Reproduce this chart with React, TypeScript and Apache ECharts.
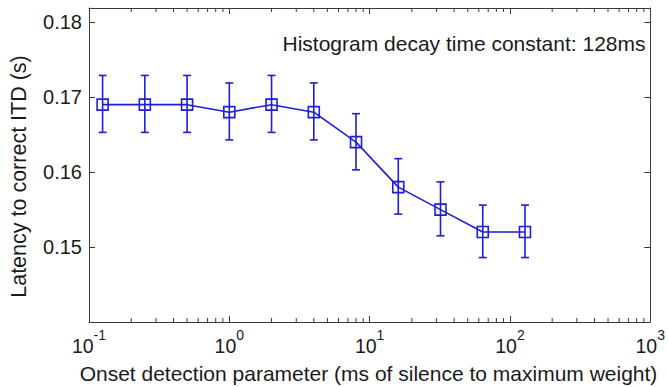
import { useEffect, useRef } from 'react';
import * as echarts from 'echarts';

const onsetMs = [0.125, 0.25, 0.5, 1, 2, 4, 8, 16, 32, 64, 128];
const latency = [0.169, 0.169, 0.169, 0.168, 0.169, 0.168, 0.164, 0.158, 0.155, 0.152, 0.152];
const errLow = [0.1653, 0.1653, 0.1653, 0.1643, 0.1653, 0.1643, 0.1603, 0.1544, 0.1515, 0.1486, 0.1486];
const errHigh = [0.1729, 0.1729, 0.1729, 0.1719, 0.1729, 0.1719, 0.1678, 0.1618, 0.1587, 0.1556, 0.1556];
const xMinorTicks = [
  0.2, 0.3, 0.4, 0.5, 0.6, 0.7, 0.8, 0.9,
  2, 3, 4, 5, 6, 7, 8, 9,
  20, 30, 40, 50, 60, 70, 80, 90,
  200, 300, 400, 500, 600, 700, 800, 900,
];
const xMin = 0.1;
const xMax = 1000;
const yMin = 0.14;
const yMax = 0.1819;
const yInterval = 0.01;
const annotation = 'Histogram decay time constant: 128ms';
const xLabel = 'Onset detection parameter (ms of silence to maximum weight)';
const yLabel = 'Latency to correct ITD (s)';

const BLUE = '#1e1ed8';
const AXIS = '#3a3a3a';
const TEXT = '#1a1a1a';
const FONT = 'Liberation Sans, Arial, sans-serif';

export default function App() {
  const ref = useRef<HTMLDivElement>(null);
  useEffect(() => {
    if (!ref.current) return;
    const chart = echarts.init(ref.current, null, { renderer: 'svg' });
    const axisLineStyle = { lineStyle: { color: AXIS, width: 1 } };
    const option: any = {
      animation: false,
      backgroundColor: '#ffffff',
      grid: { left: 89, right: 10, top: 8, bottom: 65, containLabel: false },
      xAxis: [
        {
          type: 'log',
          logBase: 10,
          min: xMin,
          max: xMax,
          position: 'bottom',
          axisLine: { show: true, ...axisLineStyle },
          axisTick: { show: true, inside: true, length: 6, lineStyle: { color: AXIS } },
          splitLine: { show: false },
          axisLabel: {
            margin: 6,
            color: TEXT,
            fontFamily: FONT,
            formatter: (v: number) => `{b|10}{s|${Math.round(Math.log10(v))}}`,
            rich: {
              b: { fontSize: 19.5, fontFamily: FONT, color: TEXT, padding: [8, 0, 0, 0] },
              s: { fontSize: 14, fontFamily: FONT, color: TEXT, verticalAlign: 'top', padding: [0, 0, 0, 0] },
            },
          },
        },
        {
          type: 'log',
          logBase: 10,
          min: xMin,
          max: xMax,
          position: 'top',
          axisLine: { show: true, ...axisLineStyle },
          axisTick: { show: true, inside: true, length: 6, lineStyle: { color: AXIS } },
          axisLabel: { show: false },
          splitLine: { show: false },
        },
      ],
      yAxis: [
        {
          type: 'value',
          min: yMin,
          max: yMax,
          interval: yInterval,
          position: 'left',
          axisLine: { show: true, ...axisLineStyle },
          axisTick: { show: true, inside: true, length: 6, lineStyle: { color: AXIS } },
          splitLine: { show: false },
          axisLabel: {
            showMinLabel: false,
            showMaxLabel: false,
            margin: 7,
            color: TEXT,
            fontSize: 20,
            fontFamily: FONT,
            formatter: (v: number) => v.toFixed(2),
          },
        },
        {
          type: 'value',
          min: yMin,
          max: yMax,
          interval: yInterval,
          position: 'right',
          axisLine: { show: true, ...axisLineStyle },
          axisTick: { show: true, inside: true, length: 6, lineStyle: { color: AXIS } },
          axisLabel: { show: false },
          splitLine: { show: false },
        },
      ],
      graphic: [
        {
          type: 'text',
          x: 282.5,
          y: 43,
          style: { text: annotation, fontSize: 21, fontFamily: FONT, fill: TEXT, align: 'left', verticalAlign: 'middle' },
        },
        {
          type: 'text',
          x: 368.5,
          y: 373,
          style: { text: xLabel, fontSize: 21, fontFamily: FONT, fill: TEXT, align: 'center', verticalAlign: 'middle' },
        },
        {
          type: 'text',
          x: 19,
          y: 176.5,
          rotation: Math.PI / 2,
          style: { text: yLabel, fontSize: 21.5, fontFamily: FONT, fill: TEXT, align: 'center', verticalAlign: 'middle' },
        },
      ],
      series: [
        {
          type: 'custom',
          xAxisIndex: 0,
          yAxisIndex: 0,
          silent: true,
          clip: false,
          z: 10,
          data: xMinorTicks.map((v) => [v, yMin]),
          encode: { x: 0, y: 1 },
          renderItem: (_params: any, api: any) => {
            const v = api.value(0);
            const b = api.coord([v, yMin]);
            const t = api.coord([v, yMax]);
            const st = { stroke: AXIS, lineWidth: 1 };
            return {
              type: 'group',
              children: [
                { type: 'line', shape: { x1: b[0], y1: b[1], x2: b[0], y2: b[1] - 4 }, style: st },
                { type: 'line', shape: { x1: t[0], y1: t[1], x2: t[0], y2: t[1] + 4 }, style: st },
              ],
            };
          },
        },
        {
          type: 'custom',
          xAxisIndex: 0,
          yAxisIndex: 0,
          data: onsetMs.map((x, i) => [x, errLow[i], errHigh[i]]),
          encode: { x: 0, y: [1, 2] },
          z: 3,
          renderItem: (_params: any, api: any) => {
            const x = api.value(0);
            const lo = api.coord([x, api.value(1)]);
            const hi = api.coord([x, api.value(2)]);
            const w = 4;
            const st = { stroke: BLUE, lineWidth: 1.6 };
            return {
              type: 'group',
              children: [
                { type: 'line', shape: { x1: hi[0], y1: hi[1], x2: lo[0], y2: lo[1] }, style: st },
                { type: 'line', shape: { x1: hi[0] - w, y1: hi[1], x2: hi[0] + w, y2: hi[1] }, style: st },
                { type: 'line', shape: { x1: lo[0] - w, y1: lo[1], x2: lo[0] + w, y2: lo[1] }, style: st },
              ],
            };
          },
        },
        {
          type: 'line',
          xAxisIndex: 0,
          yAxisIndex: 0,
          z: 4,
          data: onsetMs.map((x, i) => [x, latency[i]]),
          symbol: 'rect',
          symbolSize: 11,
          lineStyle: { color: BLUE, width: 1.6 },
          itemStyle: { color: 'rgba(0,0,0,0)', borderColor: BLUE, borderWidth: 1.6 },
        },
      ],
    };
    chart.setOption(option);
    return () => chart.dispose();
  }, []);
  return <div ref={ref} style={{ position: 'absolute', left: 0, top: 0, width: 668, height: 387 }} />;
}
